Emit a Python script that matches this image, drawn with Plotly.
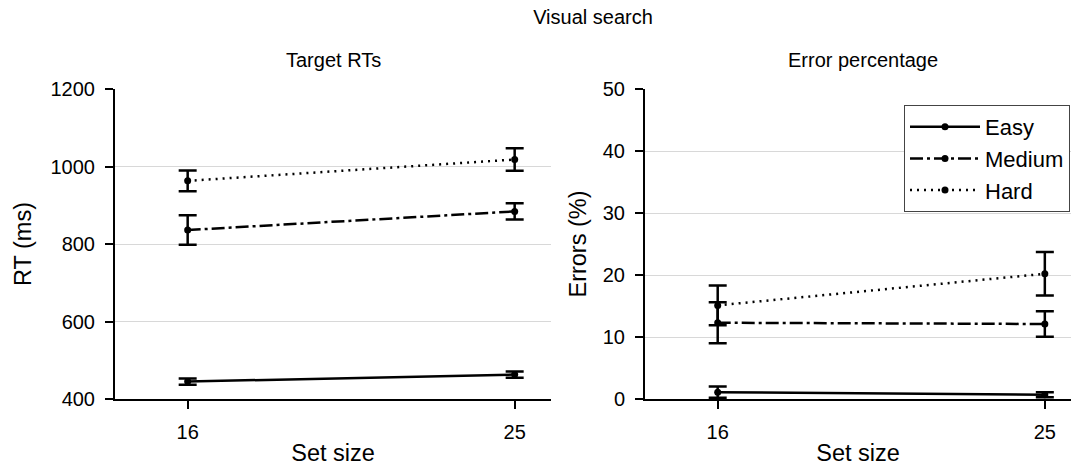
import plotly.graph_objects as go

# Visual search experiment: mean RTs and error rates by set size and difficulty
set_sizes = [16, 25]
conditions = ["Easy", "Medium", "Hard"]

rt_easy = [445, 463]
rt_easy_err = [8, 8]
rt_medium = [836, 884]
rt_medium_err = [38, 21]
rt_hard = [963, 1018]
rt_hard_err = [27, 29]

err_easy = [1.1, 0.7]
err_easy_err = [0.9, 0.4]
err_medium = [12.3, 12.1]
err_medium_err = [3.3, 2.05]
err_hard = [15.1, 20.2]
err_hard_err = [3.2, 3.5]

rt_ticks = [400, 600, 800, 1000, 1200]
err_ticks = [0, 10, 20, 30, 40, 50]

FONT = "Liberation Sans, Arial, sans-serif"
dashes = {"Easy": "solid", "Medium": "13px,4px,3px,4px", "Hard": "2px,5px"}

fig = go.Figure()

rt_series = {"Easy": (rt_easy, rt_easy_err), "Medium": (rt_medium, rt_medium_err),
             "Hard": (rt_hard, rt_hard_err)}
err_series = {"Easy": (err_easy, err_easy_err), "Medium": (err_medium, err_medium_err),
              "Hard": (err_hard, err_hard_err)}

for name in conditions:
    vals, errs = rt_series[name]
    fig.add_trace(go.Scatter(
        x=set_sizes, y=vals, name=name, mode="lines+markers",
        line=dict(color="black", width=2.5, dash=dashes[name]),
        marker=dict(color="black", size=7),
        error_y=dict(type="data", array=errs, visible=True, color="black",
                     thickness=2.5, width=9),
        xaxis="x", yaxis="y", showlegend=False))

for name in conditions:
    vals, errs = err_series[name]
    fig.add_trace(go.Scatter(
        x=set_sizes, y=vals, name=name, mode="lines+markers",
        line=dict(color="black", width=2.5, dash=dashes[name]),
        marker=dict(color="black", size=7),
        error_y=dict(type="data", array=errs, visible=True, color="black",
                     thickness=2.5, width=9),
        xaxis="x2", yaxis="y2", showlegend=True))

xcommon = dict(tickvals=set_sizes, ticks="outside", ticklen=8, tickwidth=2,
               tickcolor="black", showline=True, linecolor="black", linewidth=2,
               showgrid=False, zeroline=False, ticklabelstandoff=6,
               tickfont=dict(family=FONT, size=20, color="black"),
               title=dict(text="Set size", font=dict(family=FONT, size=23.5, color="black"),
                          standoff=3))
ycommon = dict(ticks="outside", ticklen=8, tickwidth=2, tickcolor="black",
               showline=True, linecolor="black", linewidth=2, ticklabelstandoff=6,
               showgrid=True, gridcolor="#d8d8d8", gridwidth=1, zeroline=False,
               tickfont=dict(family=FONT, size=20, color="black"))

left_end = 436 / 956
right_start = 530 / 956
right_mid = (right_start + (1081 - 115) / 956) / 2

fig.update_layout(
    width=1071, height=466,
    margin=dict(l=115, r=0, t=89, b=67),
    paper_bgcolor="white", plot_bgcolor="white",
    font=dict(family=FONT, color="black"),
    title=dict(text="Visual search", x=0.5, xref="paper", xanchor="center",
               y=1 - 17 / 466, yanchor="middle",
               font=dict(family=FONT, size=20, color="black")),
    xaxis=dict(domain=[0, left_end], range=[14, 26], anchor="y", **xcommon),
    yaxis=dict(domain=[0, 1], range=[400, 1200], tickvals=rt_ticks, anchor="x",
               title=dict(text="RT (ms)", font=dict(family=FONT, size=23.5, color="black"),
                          standoff=12),
               **ycommon),
    xaxis2=dict(domain=[right_start, 1], range=[14, 25.72], anchor="y2", **xcommon),
    yaxis2=dict(domain=[0, 1], range=[0, 50], tickvals=err_ticks, anchor="x2",
                title=dict(text="Errors (%)", font=dict(family=FONT, size=23.5, color="black"),
                           standoff=10),
                **ycommon),
    legend=dict(x=(904 - 115) / 956, xanchor="left", y=1 - (105 - 89) / 310, yanchor="top",
                bgcolor="white", bordercolor="#444", borderwidth=1,
                font=dict(family=FONT, size=22, color="black"),
                tracegroupgap=0, itemwidth=70),
    annotations=[
        dict(text="Target RTs", x=left_end / 2, xref="paper", xanchor="center",
             y=1, yref="paper", yshift=29, yanchor="middle", showarrow=False,
             font=dict(family=FONT, size=20, color="black")),
        dict(text="Error percentage", x=right_mid, xref="paper", xanchor="center",
             y=1, yref="paper", yshift=29, yanchor="middle", showarrow=False,
             font=dict(family=FONT, size=20, color="black")),
    ],
)

fig.write_html("out.html")
